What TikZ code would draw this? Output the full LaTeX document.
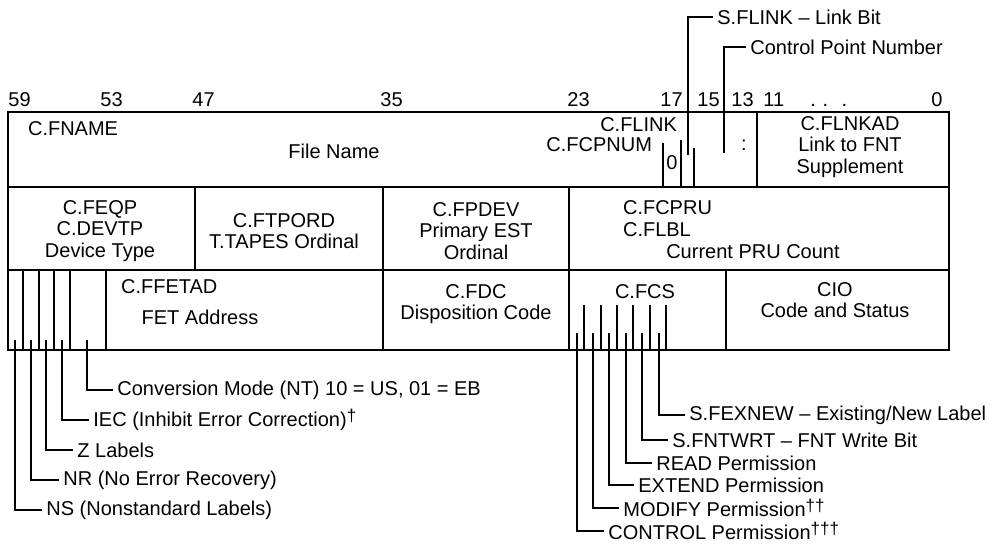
\documentclass[tikz,border=0pt]{standalone}
\usepackage{fontspec}
\setmainfont{Liberation Sans}
\usetikzlibrary{positioning}
\newcommand{\fnmark}[1]{\raisebox{0.5ex}{\fontsize{8.5}{9}\selectfont #1}}

\begin{document}
\begin{tikzpicture}[x=0.5pt,y=-0.5pt,
    every node/.style={font=\fontsize{10}{10.8}\selectfont},
    frame/.style={line width=0.9pt},
    tick/.style={line width=0.7pt},
    lead/.style={line width=0.7pt},
    tag/.style={anchor=west,inner xsep=2pt,inner ysep=0pt},
    fld/.style={align=center}]
  \useasboundingbox (0,0) rectangle (1003,545);

  % word outline and field dividers
  \draw[frame] (8,112) rectangle (949,350);
  \draw[frame] (8,187) -- (949,187);
  \draw[frame] (8,270) -- (949,270);
  \draw[frame] (757,112) -- (757,187);
  \foreach \x in {195,383,569} \draw[frame] (\x,187) -- (\x,270);
  \foreach \x in {106,383,569,726} \draw[frame] (\x,270) -- (\x,350);
  \foreach \x in {23,39,54,70} \draw[tick] (\x,270) -- (\x,350);
  \foreach \x in {584,601,617,633,650,666} \draw[tick] (\x,305) -- (\x,350);
  \draw[tick] (663,143) -- (663,187) (681,140) -- (681,187) (694,148) -- (694,187);

  % bit numbers
  \foreach \b/\x in {59/8,53/100,47/192,35/380,23/567,17/660,15/697,13/731,11/763,0/931}
    \node[anchor=base west,inner sep=0pt] (bit\b) at (\x,107) {\b};
  \node[anchor=base west,inner sep=0pt] (bitdots) at (810,107) {.\,\,.\,\,\,\,.};

  % word 1
  \node[anchor=west] (fname) at (21,129) {C.FNAME};
  \node (fnamedesc) at (334,151) {File Name};
  \node[anchor=east] (flink) at (684,125) {C.FLINK};
  \node[anchor=east] (fcpnum) at (659,145) {C.FCPNUM};
  \node[inner sep=0pt] (zerobit) at (672,163) {0};
  \node[inner sep=0pt] (colon) at (744,145) {:};
  \node[fld] (flnkad) at (850,147) {C.FLNKAD\\Link to FNT\\Supplement};

  % word 2
  \node[fld] (feqp) at (100,231) {C.FEQP\\C.DEVTP\\Device Type};
  \node[fld] (ftpord) at (284,231) {C.FTPORD\\T.TAPES Ordinal};
  \node[fld] (fpdev) at (476,231) {C.FPDEV\\Primary EST\\Ordinal};
  \node[anchor=west] (fcpru) at (616,208) {C.FCPRU};
  \node[anchor=west] (flbl) at (616,230) {C.FLBL};
  \node (prucount) at (753,252) {Current PRU Count};

  % word 3
  \node[anchor=west] (ffetad) at (114,287) {C.FFETAD};
  \node (fetaddr) at (200,317) {FET Address};
  \node[fld] (fdc) at (476,304) {C.FDC\\Disposition Code};
  \node (fcs) at (645,292) {C.FCS};
  \node[fld] (cio) at (835,300) {CIO\\Code and Status};

  % callouts above
  \coordinate (cflink) at (688,155);
  \coordinate (ccpn) at (724,153);
  \node[tag] (slink) at (713,17) {S.FLINK -- Link Bit};
  \node[tag] (cpn) at (746,47) {Control Point Number};
  \draw[lead] (cflink) |- (slink.west);
  \draw[lead] (ccpn) |- (cpn.west);

  % label bits
  \coordinate (cns) at (15,340);
  \coordinate (cnr) at (31,340);
  \coordinate (cz) at (46,340);
  \coordinate (ciec) at (62,340);
  \coordinate (cconv) at (87,340);
  \node[tag] (ns) at (42,510) {NS (Nonstandard Labels)};
  \node[tag] (nr) at (59,480) {NR (No Error Recovery)};
  \node[tag] (zlab) at (73,450) {Z Labels};
  \node[tag] (iec) at (89,420) {IEC (Inhibit Error Correction)\fnmark{†}};
  \node[tag] (conv) at (113,390) {Conversion Mode (NT) 10 = US, 01 = EB};
  \draw[lead] (cns) |- (ns.west);
  \draw[lead] (cnr) |- (nr.west);
  \draw[lead] (cz) |- (zlab.west);
  \draw[lead] (ciec) |- (iec.west);
  \draw[lead] (cconv) |- (conv.west);

  % status bits
  \coordinate (cctl) at (577,333);
  \coordinate (cmod) at (593,333);
  \coordinate (cext) at (609,333);
  \coordinate (cread) at (626,333);
  \coordinate (cwrt) at (642,333);
  \coordinate (cnew) at (659,333);
  \node[tag] (ctl) at (604,531) {CONTROL Permission\fnmark{†††}};
  \node[tag] (mod) at (619,508) {MODIFY Permission\fnmark{††}};
  \node[tag] (ext) at (634,485) {EXTEND Permission};
  \node[tag] (rd) at (652,463) {READ Permission};
  \node[tag] (wrt) at (668,440) {S.FNTWRT -- FNT Write Bit};
  \node[tag] (new) at (685,415) {S.FEXNEW -- Existing/New Label};
  \draw[lead] (cctl) |- (ctl.west);
  \draw[lead] (cmod) |- (mod.west);
  \draw[lead] (cext) |- (ext.west);
  \draw[lead] (cread) |- (rd.west);
  \draw[lead] (cwrt) |- (wrt.west);
  \draw[lead] (cnew) |- (new.west);
\end{tikzpicture}
\end{document}
